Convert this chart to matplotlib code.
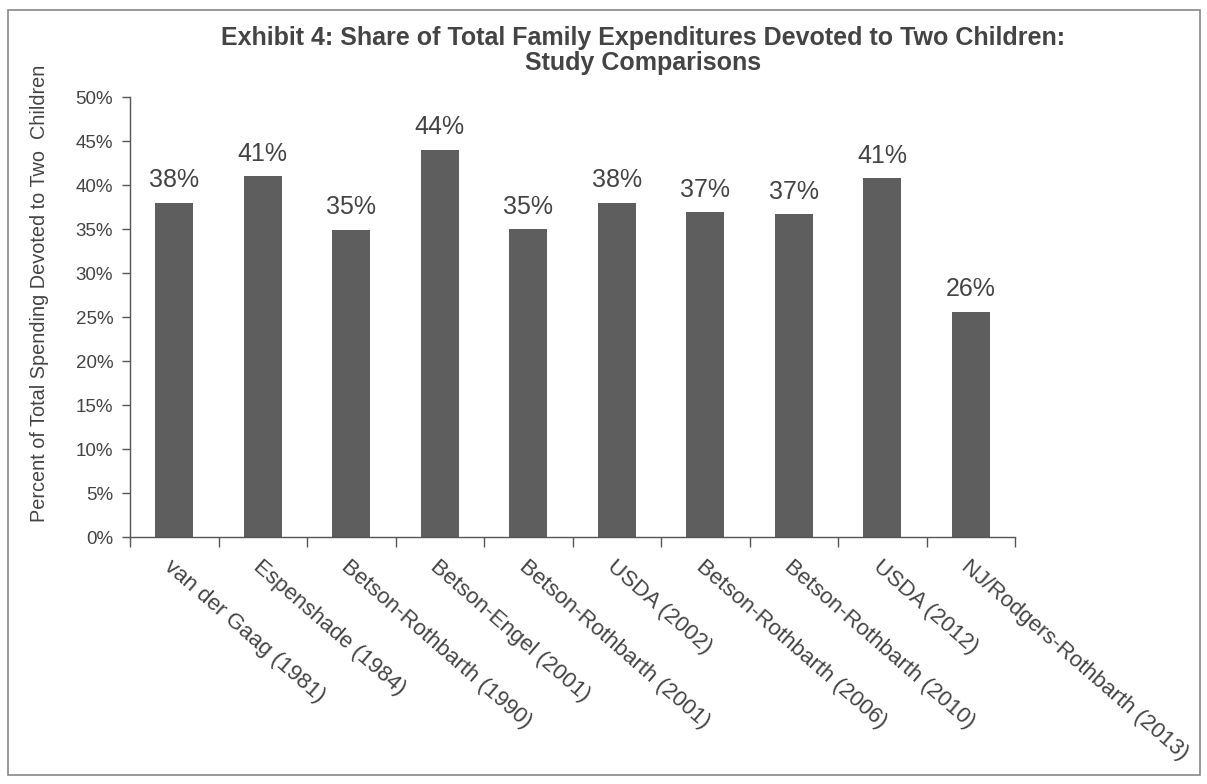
import numpy as np
import matplotlib.pyplot as plt
from matplotlib.patches import Rectangle

plt.rcParams['font.family'] = ['Liberation Sans', 'DejaVu Sans']

studies = ['van der Gaag (1981)', 'Espenshade (1984)', 'Betson-Rothbarth (1990)',
           'Betson-Engel (2001)', 'Betson-Rothbarth (2001)', 'USDA (2002)',
           'Betson-Rothbarth (2006)', 'Betson-Rothbarth (2010)', 'USDA (2012)',
           'NJ/Rodgers-Rothbarth (2013)']
share = [0.380, 0.410, 0.349, 0.440, 0.350, 0.380, 0.369, 0.367, 0.408, 0.256]
yticks = [0.0, 0.05, 0.10, 0.15, 0.20, 0.25, 0.30, 0.35, 0.40, 0.45, 0.50]

txt = '#444444'
bar_c = '#5e5e5e'

fig = plt.figure(figsize=(12.07, 7.84), dpi=100)
ax = fig.add_axes([0.1077, 0.315, 0.7333, 0.561])

x = np.arange(len(studies))
ax.bar(x, share, width=0.43, color=bar_c)

# value labels above each bar
for xi, v in zip(x, share):
    ax.text(xi, v + 0.012, '{:.0f}%'.format(round(v * 100)), ha='center', va='bottom',
            fontsize=18, color=txt)

ax.set_xlim(-0.5, len(studies) - 0.5)
ax.set_ylim(0, 0.5)
ax.set_yticks(yticks)
ax.set_yticklabels(['{:.0f}%'.format(t * 100) for t in yticks], fontsize=13.5, color=txt)
ax.tick_params(axis='y', length=6, width=1, color='#555555', pad=6)

ax.set_xticks(x)
ax.set_xticklabels(studies, rotation=-41, ha='left', rotation_mode='anchor',
                   fontsize=16, color=txt)
ax.set_xticks(np.arange(len(studies) + 1) - 0.5, minor=True)
ax.tick_params(axis='x', which='major', length=0, pad=14)
ax.tick_params(axis='x', which='minor', length=7, width=1, color='#555555')

for s in ['top', 'right']:
    ax.spines[s].set_visible(False)
for s in ['left', 'bottom']:
    ax.spines[s].set_color('#555555')
    ax.spines[s].set_linewidth(1)

ax.set_ylabel('Percent of Total Spending Devoted to Two  Children', fontsize=14.3,
              color=txt)
ax.yaxis.set_label_coords(-0.092, 0.555)

fig.text(0.533, 0.935, 'Exhibit 4: Share of Total Family Expenditures Devoted to Two Children:\nStudy Comparisons',
         ha='center', va='center', multialignment='center', fontsize=18,
         fontweight='bold', color=txt, linespacing=1.05)

# outer frame around the exhibit
fig.patches.append(Rectangle((0.007, 0.012), 0.987, 0.975, transform=fig.transFigure,
                             fill=False, edgecolor='#888888', linewidth=1.2))

fig.savefig('out.png', dpi=100)
